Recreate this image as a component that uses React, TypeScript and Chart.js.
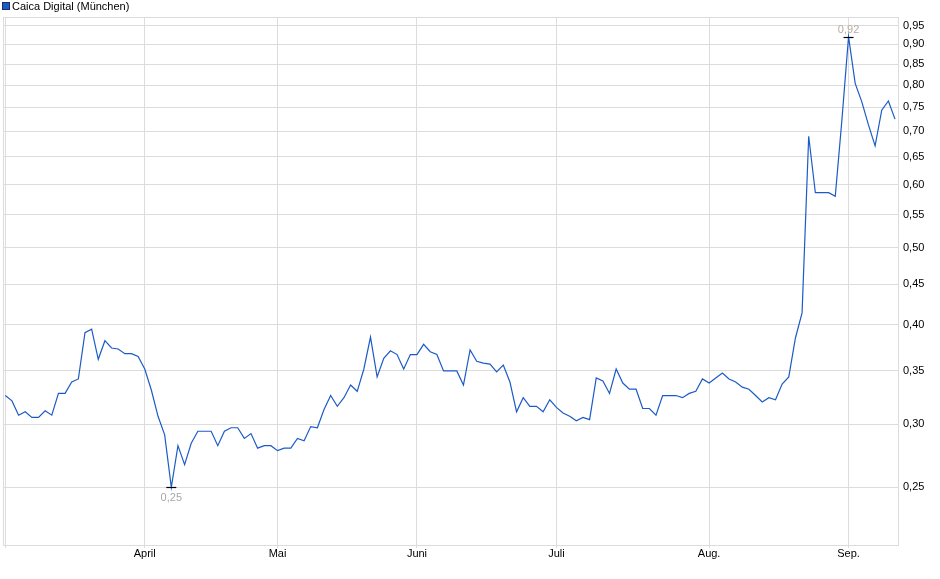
import { useEffect, useRef } from 'react';
import { Chart, registerables } from 'chart.js';

Chart.register(...registerables);

// daily closing prices (EUR), one per trading day, early March to early September
const prices = [
  0.326, 0.321, 0.308, 0.311, 0.306, 0.306, 0.312, 0.308, 0.328, 0.328,
  0.339, 0.342, 0.391, 0.395, 0.362, 0.382, 0.374, 0.373, 0.368, 0.368,
  0.365, 0.352, 0.331, 0.307, 0.291, 0.25, 0.282, 0.267, 0.284, 0.294,
  0.294, 0.294, 0.282, 0.294, 0.297, 0.297, 0.288, 0.292, 0.28, 0.282,
  0.282, 0.278, 0.28, 0.28, 0.288, 0.286, 0.298, 0.297, 0.313, 0.326,
  0.316, 0.324, 0.336, 0.33, 0.352, 0.386, 0.344, 0.363, 0.371, 0.367,
  0.352, 0.367, 0.367, 0.378, 0.37, 0.367, 0.35, 0.35, 0.35, 0.336,
  0.372, 0.36, 0.358, 0.357, 0.349, 0.356, 0.339, 0.311, 0.324, 0.316,
  0.316, 0.311, 0.322, 0.315, 0.31, 0.307, 0.303, 0.306, 0.304, 0.343,
  0.34, 0.328, 0.352, 0.338, 0.332, 0.332, 0.314, 0.314, 0.308, 0.326,
  0.326, 0.326, 0.324, 0.328, 0.33, 0.342, 0.338, 0.343, 0.348, 0.342,
  0.339, 0.334, 0.332, 0.326, 0.32, 0.324, 0.322, 0.337, 0.344, 0.385,
  0.414, 0.69, 0.586, 0.586, 0.586, 0.58, 0.723, 0.92, 0.804, 0.762,
  0.713, 0.671, 0.744, 0.764, 0.725,
];

// first trading day of each month (index into prices)
const monthStart = [21, 41, 62, 83, 106, 127];
const monthLabels = ['April', 'Mai', 'Juni', 'Juli', 'Aug.', 'Sep.'];

const yTicks = [0.25, 0.3, 0.35, 0.4, 0.45, 0.5, 0.55, 0.6, 0.65, 0.7, 0.75, 0.8, 0.85, 0.9, 0.95];
const Y_MIN = 0.2116;
const Y_MAX = 0.974;

const seriesName = 'Caica Digital (München)';
const FONT = '"Liberation Sans", Arial, sans-serif';
const LINE = '#1c5bc6';
const GRID = '#dcdcdc';

const fmt = (v: number) => v.toFixed(2).replace('.', ',');

export default function App() {
  const canvasRef = useRef<HTMLCanvasElement>(null);

  useEffect(() => {
    if (!canvasRef.current) return;

    const extras = {
      id: 'extras',
      beforeDatasetsDraw(chart: Chart) {
        const { ctx, chartArea: a } = chart;
        ctx.save();
        ctx.strokeStyle = GRID;
        ctx.lineWidth = 1;
        ctx.strokeRect(Math.round(a.left) + 0.5, Math.round(a.top) + 0.5, Math.round(a.right - a.left) - 1, Math.round(a.bottom - a.top));
        ctx.restore();
      },
      afterDatasetsDraw(chart: Chart) {
        const { ctx } = chart;
        const xs = chart.scales.x;
        const ys = chart.scales.y;
        let hi = 0;
        let lo = 0;
        prices.forEach((p, i) => {
          if (p > prices[hi]) hi = i;
          if (p < prices[lo]) lo = i;
        });
        ctx.save();
        ctx.font = `11px ${FONT}`;
        ctx.textAlign = 'center';
        // high / low markers with value labels
        const mark = (i: number, above: boolean) => {
          const x = xs.getPixelForValue(i);
          const y = Math.round(ys.getPixelForValue(prices[i])) + 0.5;
          ctx.strokeStyle = '#000';
          ctx.lineWidth = 1.2;
          ctx.beginPath();
          ctx.moveTo(x - 5, y);
          ctx.lineTo(x + 5, y);
          ctx.stroke();
          ctx.fillStyle = above ? '#b8aca0' : '#a8a8a8';
          ctx.textBaseline = above ? 'bottom' : 'top';
          ctx.fillText(fmt(prices[i]), x, above ? y - 2 : y + 5);
        };
        mark(hi, true);
        mark(lo, false);

        // legend
        ctx.fillStyle = LINE;
        ctx.fillRect(3, 3, 6, 6);
        ctx.strokeStyle = '#14306a';
        ctx.lineWidth = 1;
        ctx.strokeRect(2.5, 2.5, 7, 7);
        ctx.fillStyle = '#000';
        ctx.textAlign = 'left';
        ctx.textBaseline = 'middle';
        ctx.fillText(seriesName, 12, 6.5);
        ctx.restore();
      },
    };

    const chart = new Chart(canvasRef.current, {
      type: 'line',
      data: {
        labels: prices.map((_, i) => i),
        datasets: [
          {
            label: seriesName,
            data: prices.map((p, i) => ({ x: i, y: p })),
            borderColor: LINE,
            borderWidth: 1.2,
            pointRadius: 0,
            tension: 0,
            fill: false,
          },
        ],
      },
      options: {
        animation: false,
        responsive: false,
        devicePixelRatio: 1,
        layout: { padding: { top: 17, left: 3, right: 0, bottom: 0 } },
        plugins: {
          legend: { display: false },
          tooltip: { enabled: false },
        },
        scales: {
          x: {
            type: 'linear',
            min: -0.35,
            max: 134.6,
            grid: { color: GRID, tickLength: 3, drawTicks: true },
            border: { display: false },
            afterBuildTicks: (scale: any) => {
              scale.ticks = [0, ...monthStart].map((v) => ({ value: v }));
            },
            afterFit: (scale: any) => {
              scale.height = 34;
            },
            ticks: {
              autoSkip: false,
              maxRotation: 0,
              padding: -1,
              color: '#000',
              font: { family: FONT, size: 11 },
              callback: (v: any) => {
                const k = monthStart.indexOf(Number(v));
                return k >= 0 ? monthLabels[k] : '';
              },
            },
          },
          y: {
            type: 'logarithmic',
            position: 'right',
            bounds: 'data',
            min: Y_MIN,
            max: Y_MAX,
            grid: { color: GRID, drawTicks: false },
            border: { display: false },
            afterBuildTicks: (scale: any) => {
              scale.ticks = yTicks.map((v) => ({ value: v }));
              // keep the exact range, Chart.js rounds it otherwise
              scale.min = Y_MIN;
              scale.max = Y_MAX;
            },
            afterFit: (scale: any) => {
              scale.width = 41;
            },
            ticks: {
              padding: 4,
              color: '#000',
              font: { family: FONT, size: 11 },
              callback: (v: any) => fmt(Number(v)),
            },
          },
        },
      },
      plugins: [extras],
    } as any);

    return () => chart.destroy();
  }, []);

  return (
    <div style={{ position: 'absolute', left: 0, top: 0, width: 940, height: 579, background: '#fff' }}>
      <canvas ref={canvasRef} width={940} height={579} />
    </div>
  );
}
